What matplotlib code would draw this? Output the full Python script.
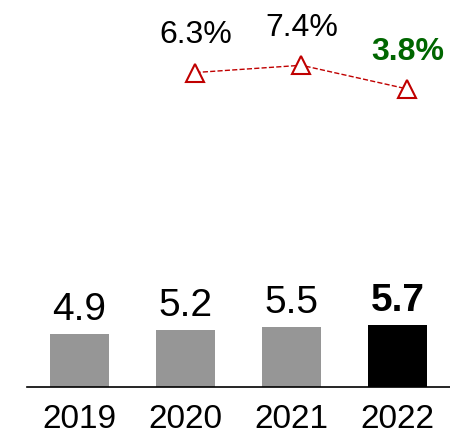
import numpy as np
import matplotlib
matplotlib.use("Agg")
import matplotlib.pyplot as plt

plt.rcParams["font.family"] = ["Liberation Sans", "DejaVu Sans"]

years = ["2019", "2020", "2021", "2022"]
values = [4.9, 5.2, 5.5, 5.7]
growth_years = ["2020", "2021", "2022"]
growth = [6.3, 7.4, 3.8]
growth_labels = ["6.3%", "7.4%", "3.8%"]

bar_colors = ["#969696", "#969696", "#969696", "#000000"]

fig = plt.figure(figsize=(4.5, 4.36), dpi=100)
ax = fig.add_axes([0.06, 0.1124, 0.94, 0.8876])

x = np.arange(len(years))
ax.bar(x, values, width=0.557, color=bar_colors, zorder=2)
ax.set_xlim(-0.495, 3.495)
ax.set_ylim(0, 35.5)

for i, v in enumerate(values):
    last = i == len(values) - 1
    ax.annotate(f"{v:.1f}", (x[i], v), xytext=(0, 10), textcoords="offset points",
                ha="center", va="baseline", fontsize=28,
                fontweight="bold" if last else "normal", color="black")

for s in ["top", "right", "left"]:
    ax.spines[s].set_visible(False)
ax.spines["bottom"].set_linewidth(1.2)
ax.set_yticks([])
ax.set_xticks(x)
ax.set_xticklabels(years, fontsize=24)
ax.tick_params(axis="x", length=0, pad=12)

# growth rates on a second scale
ax2 = ax.twinx()
ax2.set_ylim(-41.4, 17.3)
ax2.axis("off")
gx = np.array([years.index(y) for y in growth_years]) + 0.094
ax2.plot(gx, growth, color="#C00000", linestyle="--", linewidth=1,
         marker="^", markersize=13, markerfacecolor="white",
         markeredgecolor="#C00000", markeredgewidth=1.5)

for i, (g, lab) in enumerate(zip(growth, growth_labels)):
    last = i == len(growth) - 1
    ax2.annotate(lab, (gx[i], g), xytext=(0, 21), textcoords="offset points",
                 ha="center", va="baseline", fontsize=23,
                 fontweight="bold" if last else "normal",
                 color="#006600" if last else "black")

fig.savefig("out.png", dpi=100)
